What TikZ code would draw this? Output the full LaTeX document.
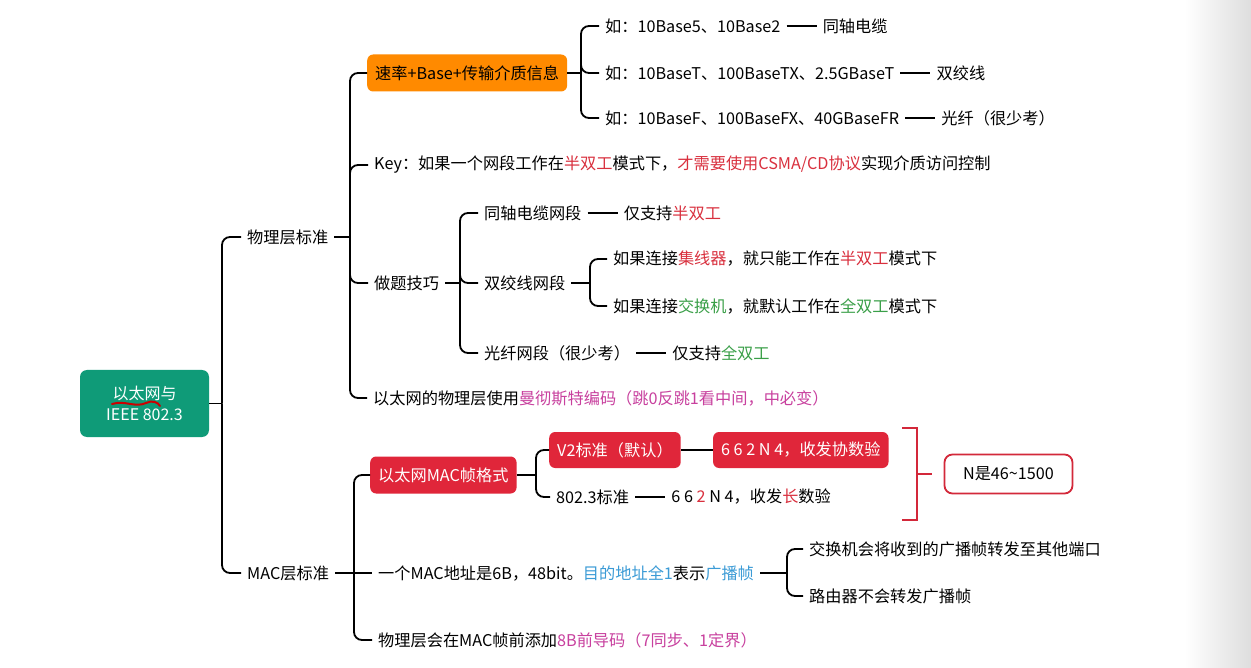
\documentclass[tikz,border=0pt]{standalone}
\usepackage{fontspec}
\setmainfont{Noto Sans CJK SC}
\usetikzlibrary{positioning}
\definecolor{rd}{HTML}{D9303E}
\definecolor{gn}{HTML}{3A9F48}
\definecolor{pk}{HTML}{C8409E}
\definecolor{bl}{HTML}{3B9BD6}
\definecolor{boxred}{HTML}{E0263A}
\definecolor{boxorange}{HTML}{FF8A00}
\definecolor{rootgreen}{HTML}{0F9B78}
\definecolor{brk}{HTML}{D3283A}
\newcommand\fsz{\fontsize{16.2pt}{20pt}\selectfont}
\begin{document}
\begin{tikzpicture}[x=1pt,y=-1pt,
  conn/.style={draw=black,line width=1.8pt,rounded corners=8pt},
  txt/.style={anchor=west,inner xsep=6pt,inner ysep=2pt,font=\fsz},
  rootbox/.style={fill=rootgreen,rounded corners=7pt,minimum width=129pt,minimum height=67pt,text=white,align=center,font=\fontsize{16pt}{21pt}\selectfont},
  obox/.style={anchor=west,fill=boxorange,rounded corners=6pt,minimum height=37pt,inner xsep=8pt,font=\fsz},
  rbox/.style={anchor=west,fill=boxred,rounded corners=6pt,minimum height=36pt,inner xsep=8pt,text=white,font=\fsz},
  nbox/.style={draw=brk,line width=1.8pt,fill=white,rounded corners=8pt,minimum width=128pt,minimum height=39pt,font=\fsz},
  brkline/.style={draw=brk,line width=1.8pt}]
\useasboundingbox (0,0) rectangle (1251,668);
\fill[white] (0,0) rectangle (1251,668);
\shade[left color=white,right color=black!13] (1185,0) rectangle (1251,668);

% root
\node[rootbox] (root) at (144.5,403.5) {以太网与\\IEEE 802.3};
\draw[red!80!black,line width=2pt,line cap=round] (112,404) .. controls (125,400) and (135,408) .. (146,403) .. controls (152,400) and (158,402) .. (160,406);

% level 1
\node[txt] (phys) at (241,237) {物理层标准};
\node[txt] (mac) at (241,573) {MAC层标准};
\coordinate (t1) at (222,403.5);
\draw[conn] (root.east) -- (t1);
\draw[conn] (t1) |- (phys.west);
\draw[conn] (t1) |- (mac.west);

% physical layer
\coordinate (t2) at (350,237);
\node[obox] (rate) at (367,73) {速率+Base+传输介质信息};
\node[txt] (key) at (368,165) {Key：如果一个网段工作在\textcolor{rd}{半双工}模式下，\textcolor{rd}{才需要使用CSMA/CD协议}实现介质访问控制};
\node[txt] (tips) at (368,283) {做题技巧};
\node[txt] (manch) at (367,398) {以太网的物理层使用\textcolor{pk}{曼彻斯特编码（跳0反跳1看中间，中必变）}};
\draw[conn] (phys.east) -- (t2);
\draw[conn] (t2) |- (rate.west);
\draw[conn] (t2) |- (key.west);
\draw[conn] (t2) |- (tips.west);
\draw[conn] (t2) |- (manch.west);

% rate children
\coordinate (t3) at (581,73);
\draw[conn] (rate.east) -- (t3);
\node[txt] (r1) at (599,26) {如：10Base5、10Base2};
\node[txt] (r2) at (599,73) {如：10BaseT、100BaseTX、2.5GBaseT};
\node[txt] (r3) at (599,118) {如：10BaseF、100BaseFX、40GBaseFR};
\draw[conn] (t3) |- (r1.west);
\draw[conn] (t3) |- (r2.west);
\draw[conn] (t3) |- (r3.west);
\node[txt,right=30pt of r1] (r1b) {同轴电缆};
\node[txt,right=30pt of r2] (r2b) {双绞线};
\node[txt,right=30pt of r3] (r3b) {光纤（很少考）};
\draw[conn] (r1.east) -- (r1b.west);
\draw[conn] (r2.east) -- (r2b.west);
\draw[conn] (r3.east) -- (r3b.west);

% tips children
\coordinate (t4) at (460,283);
\draw[conn] (tips.east) -- (t4);
\node[txt] (coax) at (478,213) {同轴电缆网段};
\node[txt] (tp) at (478,283) {双绞线网段};
\node[txt] (fib) at (478,353) {光纤网段（很少考）};
\draw[conn] (t4) |- (coax.west);
\draw[conn] (t4) |- (tp.west);
\draw[conn] (t4) |- (fib.west);
\node[txt,right=30pt of coax] (coaxb) {仅支持\textcolor{rd}{半双工}};
\node[txt,right=30pt of fib] (fibb) {仅支持\textcolor{gn}{全双工}};
\draw[conn] (coax.east) -- (coaxb.west);
\draw[conn] (fib.east) -- (fibb.west);
\coordinate (t5) at (590,283);
\draw[conn] (tp.east) -- (t5);
\node[txt] (hub) at (607,259) {如果连接\textcolor{rd}{集线器}，就只能工作在\textcolor{rd}{半双工}模式下};
\node[txt] (sw) at (607,306) {如果连接\textcolor{gn}{交换机}，就默认工作在\textcolor{gn}{全双工}模式下};
\draw[conn] (t5) |- (hub.west);
\draw[conn] (t5) |- (sw.west);

% MAC layer
\coordinate (t6) at (354,573);
\draw[conn] (mac.east) -- (t6);
\node[rbox,minimum height=37pt] (frame) at (370,475) {以太网MAC帧格式};
\node[txt] (addr) at (372,573) {一个MAC地址是6B，48bit。\textcolor{bl}{目的地址全1}表示\textcolor{bl}{广播帧}};
\node[txt] (pre) at (372,640) {物理层会在MAC帧前添加\textcolor{pk}{8B前导码（7同步、1定界）}};
\draw[conn] (t6) |- (frame.west);
\draw[conn] (t6) -- (addr.west);
\draw[conn] (t6) |- (pre.west);

% frame children
\coordinate (t7) at (536,475);
\draw[conn] (frame.east) -- (t7);
\node[rbox] (v2) at (549,450) {V2标准（默认）};
\node[txt] (s8023) at (550,497) {802.3标准};
\draw[conn] (t7) |- (v2.west);
\draw[conn] (t7) |- (s8023.west);
\node[rbox,right=32pt of v2] (v2b) {6 6 2 N 4，收发协数验};
\draw[conn] (v2.east) -- (v2b.west);
\node[txt,right=30pt of s8023] (s8023b) {6 6 \textcolor{rd}{2} N 4，收发\textcolor{rd}{长}数验};
\draw[conn] (s8023.east) -- (s8023b.west);

% bracket and N box
\coordinate (bm) at (917,474);
\draw[brkline] (902,428) -- (917,428) -- (917,520) -- (902,520);
\coordinate (bt) at (932,474);
\draw[brkline] (bm) -- (bt);
\node[nbox] (nn) at (1008.5,474) {N是46\textasciitilde 1500};

% address children
\coordinate (t8) at (787,573);
\draw[conn] (addr.east) -- (t8);
\node[txt] (bc1) at (803,549) {交换机会将收到的广播帧转发至其他端口};
\node[txt] (bc2) at (803,596) {路由器不会转发广播帧};
\draw[conn] (t8) |- (bc1.west);
\draw[conn] (t8) |- (bc2.west);
\end{tikzpicture}
\end{document}
